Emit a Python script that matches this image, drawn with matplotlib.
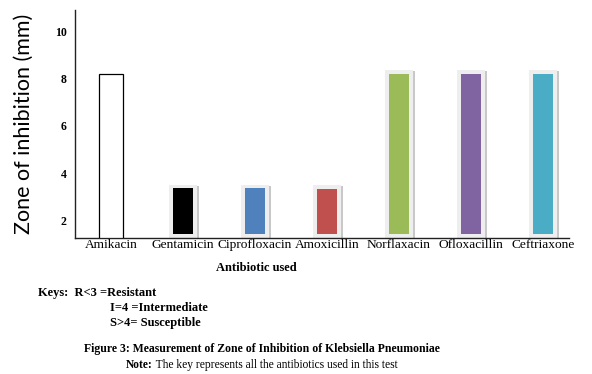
import numpy as np
import matplotlib.pyplot as plt

antibiotics = ['Amikacin', 'Gentamicin', 'Ciprofloxacin', 'Amoxicillin',
               'Norflaxacin', 'Ofloxacillin', 'Ceftriaxone']
zone_mm = [8.2, 3.35, 3.35, 3.33, 8.2, 8.2, 8.2]
bar_colors = ['white', 'black', '#4f81bd', '#c0504d', '#9bbb59', '#8064a2', '#4bacc6']
y_ticks = [2, 4, 6, 8, 10]

serif = ['Liberation Serif', 'DejaVu Serif']

fig = plt.figure(figsize=(5.92, 3.74), dpi=100)
ax = fig.add_axes([0.1267, 0.3636, 0.8343, 0.6094])

base = 1.25
x = np.arange(len(antibiotics))
h = np.array(zone_mm)

for i, (xi, hi, c) in enumerate(zip(x, h, bar_colors)):
    if i == 0:
        # plain outlined bar
        ax.bar(xi, hi - base, bottom=base, width=0.33, color='white',
               edgecolor='black', linewidth=0.9, zorder=3)
    else:
        # light frame with a soft shadow, then the coloured bar
        ax.bar(xi + 0.03, hi - base + 0.12, bottom=base, width=0.39,
               color='#c8c8c8', zorder=2)
        ax.bar(xi, hi - base + 0.15, bottom=base, width=0.39,
               color='#eeeeee', zorder=2)
        ax.bar(xi, hi - 1.4, bottom=1.4, width=0.29, color=c, zorder=3)

ax.set_xlim(-0.5, 6.36)
ax.set_ylim(base, 10.9)
ax.set_yticks(y_ticks)
ax.set_yticklabels([str(t) for t in y_ticks], family=serif, fontweight='bold',
                   fontsize=8.5)
ax.set_xticks(x)
ax.set_xticklabels(antibiotics, family=serif, fontsize=9.6)
ax.tick_params(length=0)
ax.tick_params(axis='x', pad=1)
ax.tick_params(axis='y', pad=6)
for s in ['top', 'right']:
    ax.spines[s].set_visible(False)
for s in ['left', 'bottom']:
    ax.spines[s].set_color('#222222')
    ax.spines[s].set_linewidth(1.0)

fig.text(24 / 592, 1 - 124 / 374, 'Zone of inhibition (mm)', rotation=90,
         ha='center', va='center', family=['Lato', 'DejaVu Sans'], fontsize=15.5)

fig.text(256 / 592, 1 - 268 / 374, 'Antibiotic used', ha='center', va='center',
         family=serif, fontweight='bold', fontsize=9)
fig.text(38 / 592, 1 - 293 / 374, 'Keys:  R<3 =Resistant', ha='left', va='center',
         family=serif, fontweight='bold', fontsize=9)
fig.text(110 / 592, 1 - 308 / 374, 'I=4 =Intermediate', ha='left', va='center',
         family=serif, fontweight='bold', fontsize=9)
fig.text(110 / 592, 1 - 323 / 374, 'S>4= Susceptible', ha='left', va='center',
         family=serif, fontweight='bold', fontsize=9)
fig.text(262 / 592, 1 - 349 / 374,
         'Figure 3: Measurement of Zone of Inhibition of Klebsiella Pneumoniae',
         ha='center', va='center', family=serif, fontweight='bold', fontsize=8.5)

# note line: bold "Note:" followed by regular text, centred as a whole
r = fig.canvas.get_renderer()
t1 = fig.text(0, 1 - 365 / 374, 'Note:', ha='left', va='center',
              family=serif, fontweight='bold', fontsize=8.3)
t2 = fig.text(0, 1 - 365 / 374, ' The key represents all the antibiotics used in this test',
              ha='left', va='center', family=serif, fontsize=8.3)
w1 = t1.get_window_extent(r).width
w2 = t2.get_window_extent(r).width
x0 = 262 - (w1 + w2) / 2
t1.set_x(x0 / 592)
t2.set_x((x0 + w1) / 592)

fig.savefig('out.png', dpi=100)
